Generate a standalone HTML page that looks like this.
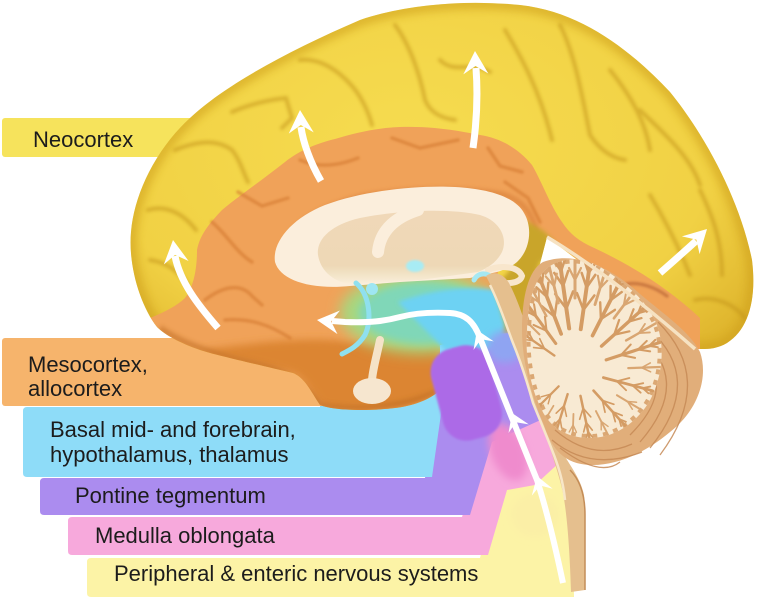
<!DOCTYPE html>
<html><head><meta charset="utf-8"><title>Brain regions</title>
<style>
html,body{margin:0;padding:0;background:#fff;width:759px;height:599px;overflow:hidden}
svg{display:block}
text{font-family:"Liberation Sans",Arial,sans-serif;font-size:22px;fill:#1c1c1c}
</style></head><body>
<svg width="759" height="599" viewBox="0 0 759 599" xmlns="http://www.w3.org/2000/svg">
<defs>
 <filter id="b1" x="-20%" y="-20%" width="140%" height="140%"><feGaussianBlur stdDeviation="1"/></filter>
 <filter id="b15" x="-20%" y="-20%" width="140%" height="140%"><feGaussianBlur stdDeviation="1.6"/></filter>
 <filter id="b2" x="-20%" y="-20%" width="140%" height="140%"><feGaussianBlur stdDeviation="2"/></filter>
 <filter id="b4" x="-30%" y="-30%" width="160%" height="160%"><feGaussianBlur stdDeviation="4"/></filter>
 <filter id="b7" x="-50%" y="-50%" width="200%" height="200%"><feGaussianBlur stdDeviation="7"/></filter>
 <clipPath id="cer"><path d="M157,327 C140,305 128,265 131,232 C134,195 155,150 190,118 C225,85 290,50 360,20 C410,3 470,0 520,5 C585,12 635,55 670,92 C705,135 740,200 752,260 C757,300 748,330 727,343 C715,350 705,349 695,349 L547,237 L522,332 L495,334 L440,345 L440,390 C430,400 412,406 395,408 C370,411 335,411 320,405 C310,390 305,378 293,373 C260,365 215,355 200,350 C180,343 165,335 157,327 Z"/></clipPath>
 <clipPath id="arb"><path d="M545,270 C560,256 585,256 605,270 C625,283 647,300 657,325 C667,352 660,388 645,408 C630,428 610,438 590,438 C565,438 548,426 540,406 C530,386 525,356 527,330 C528,304 533,283 545,270 Z"/></clipPath>
 <radialGradient id="yg" cx="0.45" cy="0.35" r="0.7">
  <stop offset="0" stop-color="#f6dc50"/><stop offset="0.7" stop-color="#f1d144"/><stop offset="1" stop-color="#ddb22b"/>
 </radialGradient>
 <linearGradient id="tanIn" x1="0" y1="0" x2="0" y2="1">
  <stop offset="0" stop-color="#f0d8b8"/><stop offset="0.75" stop-color="#eed8b6"/><stop offset="1" stop-color="#e6dcb0" stop-opacity="0"/>
 </linearGradient>
 <g id="fs" fill="none" stroke="#d49c64" stroke-linecap="round">
  <path d="M0,-115 L0,-42" stroke-width="4"/>
  <path d="M0,-62 L-9,-78 M0,-62 L9,-78 M0,-85 L-7,-99 M0,-85 L7,-99 M0,-100 L-5,-110 M0,-100 L5,-110" stroke-width="2.6"/>
 </g>
 <g id="fs2" fill="none" stroke="#d9a672" stroke-linecap="round">
  <path d="M0,-115 L0,-72" stroke-width="3"/>
  <path d="M0,-90 L-6,-102 M0,-90 L6,-102" stroke-width="2.2"/>
 </g>
 <polygon id="ah" points="0,0 12.5,23 0,15 -12.5,23" fill="#fff"/>
 <polygon id="ch" points="0,0 11,17 0,10 -11,17" fill="#fff"/>
</defs>

<!-- label bands (bottom to top) -->
<path d="M91,558 L480,558 L500,480 L540,440 L562,465 L572,490 L574,597 L91,597 Q87,597 87,593 L87,562 Q87,558 91,558 Z" fill="#fcf3a6"/>
<path d="M72,517 L462,517 L485,440 L545,410 L560,462 L535,485 L507,490 L488,555 L72,555 Q68,555 68,551 L68,521 Q68,517 72,517 Z" fill="#f7a9dc"/>
<path d="M44,478 L425,478 L437,400 L450,340 L510,325 L540,400 L545,418 L492,442 L470,515 L44,515 Q40,515 40,511 L40,482 Q40,478 44,478 Z" fill="#ab8cef"/>
<path d="M27,407 L320,407 L320,360 L440,330 L500,295 L510,328 L452,348 L443,400 L432,477 L27,477 Q23,477 23,473 L23,411 Q23,407 27,407 Z" fill="#8edcf8"/>
<rect x="2" y="338" width="330" height="68" rx="3" fill="#f6b46c"/>
<rect x="2" y="118" width="215" height="39" rx="3" fill="#f6e35c"/>

<!-- soft transitions in the stem -->
<ellipse cx="535" cy="515" rx="24" ry="22" fill="#fbefa6" filter="url(#b4)"/>
<ellipse cx="508" cy="452" rx="17" ry="30" transform="rotate(-22 508 452)" fill="#ef8bcd" filter="url(#b4)"/>

<!-- cerebrum -->
<path d="M157,327 C140,305 128,265 131,232 C134,195 155,150 190,118 C225,85 290,50 360,20 C410,3 470,0 520,5 C585,12 635,55 670,92 C705,135 740,200 752,260 C757,300 748,330 727,343 C715,350 705,349 695,349 L547,237 L522,332 L495,334 L440,345 L440,390 C430,400 412,406 395,408 C370,411 335,411 320,405 C310,390 305,378 293,373 C260,365 215,355 200,350 C180,343 165,335 157,327 Z" fill="url(#yg)"/>
<g clip-path="url(#cer)">
 <path d="M157,327 C140,305 128,265 131,232 C134,195 155,150 190,118 C225,85 290,50 360,20 C410,3 470,0 520,5 C585,12 635,55 670,92 C705,135 740,200 752,260 C757,300 748,330 727,343 C715,350 705,349 695,349" fill="none" stroke="#cfa01f" stroke-width="14" opacity="0.55" filter="url(#b4)"/>
 <g fill="none" stroke="#c4951c" stroke-width="4" stroke-linecap="round" opacity="0.55" filter="url(#b15)">
  <path d="M175,150 C195,142 215,138 232,150 C240,160 243,172 248,182"/>
  <path d="M148,210 C165,205 182,212 196,230"/>
  <path d="M232,112 C250,104 268,100 286,98 L292,118 L282,128"/>
  <path d="M300,60 C320,58 338,70 352,86 C360,95 368,110 372,125"/>
  <path d="M395,25 C410,45 420,75 425,100 C430,112 440,118 455,120"/>
  <path d="M505,30 C520,55 540,90 552,140"/>
  <path d="M560,25 C575,55 582,95 590,135 C600,150 612,158 625,160"/>
  <path d="M610,70 C630,95 645,120 650,150"/>
  <path d="M640,110 C660,130 690,155 700,185"/>
  <path d="M650,195 C665,220 678,245 690,275"/>
  <path d="M700,190 C712,215 722,240 722,275"/>
  <path d="M695,300 C715,295 735,305 745,318"/>
  <path d="M440,60 C455,75 470,60 490,72"/>
  <path d="M150,260 C165,262 178,270 188,285"/>
 </g>
 <!-- orange band + temporal -->
 <path d="M150,318 C165,312 178,305 185,298 C195,285 197,265 197,250 C200,235 208,225 222,210 C240,195 265,178 285,162 C300,150 318,143 335,139 C355,133 375,128 400,127 C430,126 455,130 480,135 C500,138 518,148 532,165 C542,182 550,205 562,222 C570,234 578,240 590,246 C625,262 665,285 700,318 L700,350 L547,237 L520,250 L500,265 L490,300 L440,345 L440,390 C430,400 412,406 395,408 C370,411 335,411 320,405 C310,390 305,378 293,373 C260,365 215,355 200,350 C180,343 165,335 157,327 Z" fill="#f0a259"/>
 <path d="M200,350 C240,345 290,338 330,340 C370,343 410,350 440,345 L440,390 C430,400 412,406 395,408 C370,411 335,411 320,405 C310,390 305,378 293,373 C260,365 215,355 200,350 Z" fill="#dc8530" filter="url(#b4)"/>
 <path d="M160,328 C180,343 215,355 260,365 C293,373 305,385 320,405 C360,412 410,406 440,390" fill="none" stroke="#b8661c" stroke-width="6" opacity="0.5" filter="url(#b2)"/>
 <g fill="none" stroke="#d47a30" stroke-width="3.5" stroke-linecap="round" opacity="0.6" filter="url(#b1)">
  <path d="M212,222 C228,236 236,252 252,262"/>
  <path d="M205,300 C222,287 240,282 252,296 L262,305"/>
  <path d="M238,192 L262,206 L288,198"/>
  <path d="M392,138 L420,148 L458,140"/>
  <path d="M488,148 L500,166 L522,172"/>
  <path d="M505,182 L528,198 L540,222"/>
  <path d="M300,160 C318,168 338,166 358,158"/>
  <path d="M225,320 C250,318 270,325 290,338"/>
  <path d="M627,284 C640,282 655,287 667,296" stroke="#a8522a" opacity="0.8"/>
 </g>
 <path d="M283,252 C288,226 318,208 360,197 C400,189 460,187 500,194 C522,199 534,214 536,234" fill="none" stroke="#d8803a" stroke-width="5" opacity="0.7" filter="url(#b2)"/>
 <!-- olive region behind splenium -->
 <path d="M522,218 L545,232 L562,250 L540,262 L528,300 L522,336 L495,336 L492,290 L510,270 L520,250 Z" fill="#c9a52b" filter="url(#b2)"/>
 <!-- diencephalon green/blue -->
 <ellipse cx="420" cy="313" rx="80" ry="40" fill="#a6d880" filter="url(#b7)"/>
 <ellipse cx="425" cy="313" rx="66" ry="31" fill="#80d7b8" filter="url(#b4)"/>
</g>
<path d="M398,302 C430,290 470,285 495,290 L505,325 L500,348 L445,350 C428,332 410,315 398,302 Z" fill="#6dd2f3" filter="url(#b2)"/>
<ellipse cx="505" cy="347" rx="18" ry="16" fill="#8fa4f2" filter="url(#b4)"/>

<!-- pons -->
<rect x="-30" y="-46" width="60" height="94" rx="24" transform="translate(466,392) rotate(-15)" fill="#ac6be7" filter="url(#b1)"/>

<!-- corpus callosum & thalamus -->
<path d="M275,262 C272,242 292,218 325,205 C365,190 420,185 455,187 C490,189 515,197 524,213 C533,228 530,250 517,262 C510,268 503,270 497,272 L470,278 L400,282 L350,286 C310,290 280,280 275,262 Z" fill="#fbeedc"/>
<path d="M318,255 C316,240 330,225 360,218 C400,210 450,208 480,215 C500,221 508,238 502,252 C497,262 488,268 478,272 L420,280 L350,284 C330,281 320,268 318,255 Z" fill="url(#tanIn)"/>
<path d="M378,252 C380,232 393,218 418,210" fill="none" stroke="#fbeedc" stroke-width="12" stroke-linecap="round"/>
<path d="M488,270 C500,265 518,266 522,276 C520,284 506,284 497,282" fill="none" stroke="#f8e6cc" stroke-width="6" stroke-linecap="round"/>
<ellipse cx="415" cy="266" rx="9" ry="6" fill="#a8ecf4" filter="url(#b1)"/>
<ellipse cx="372" cy="289" rx="6" ry="6" fill="#9ee6f2"/>
<path d="M474,280 C478,272 489,272 492,279" fill="none" stroke="#a5e8f2" stroke-width="5" stroke-linecap="round"/>
<path d="M356,283 C370,295 372,320 365,335 C358,346 350,350 342,354" fill="none" stroke="#8fe0ef" stroke-width="5" stroke-linecap="round"/>
<!-- pituitary -->
<path d="M380,340 C377,355 373,368 372,380" fill="none" stroke="#f5e3c8" stroke-width="8" stroke-linecap="round"/>
<ellipse cx="372" cy="391" rx="19" ry="13" fill="#f6e6cf"/>

<!-- brainstem posterior tan strip -->
<path d="M486,276 C494,270 505,274 510,285 C520,305 528,330 535,360 C542,390 548,420 557,442 C565,460 580,475 584,495 C586,515 585,550 585,590 L571,592 C570,560 568,520 563,493 C560,478 555,465 547,437 C540,415 536,405 533,403 C528,385 520,360 513,343 C506,325 500,305 494,292 Z" fill="#e5bf8e"/>
<path d="M490,285 C500,305 506,325 513,343 C520,360 528,385 533,403 C540,420 547,437 552,450 C558,465 563,480 565,500" fill="none" stroke="#f7e6c8" stroke-width="2.5"/>
<path d="M570,470 C580,480 585,495 585,515 L585,590" fill="none" stroke="#c48d58" stroke-width="1.5"/>

<!-- cerebellum -->
<path d="M543,262 C575,250 612,268 640,294 C665,315 690,332 700,352 C708,375 700,405 676,427 C650,450 620,466 590,465 C565,464 552,450 544,425 C532,398 522,362 522,330 C522,298 528,270 543,262 Z" fill="#e1ae7a"/>
<g fill="none" stroke="#c68a56" stroke-width="1.3" opacity="0.85">
 <path d="M658,322 Q716,380 660,455"/>
 <path d="M650,330 Q705,380 650,448"/>
 <path d="M642,338 Q692,382 640,442"/>
 <path d="M635,348 Q680,385 630,435"/>
 <path d="M552,440 Q590,472 642,452"/>
 <path d="M555,430 Q592,462 632,444"/>
 <path d="M560,448 Q600,478 620,462"/>
</g>
<!-- arbor vitae -->
<path d="M545,270 C560,256 585,256 605,270 C625,283 647,300 657,325 C667,352 660,388 645,408 C630,428 610,438 590,438 C565,438 548,426 540,406 C530,386 525,356 527,330 C528,304 533,283 545,270 Z" fill="#f8ead3"/>
<g clip-path="url(#arb)">
 <path d="M545,270 C560,256 585,256 605,270 C625,283 647,300 657,325 C667,352 660,388 645,408 C630,428 610,438 590,438 C565,438 548,426 540,406 C530,386 525,356 527,330 C528,304 533,283 545,270 Z" fill="none" stroke="#dba874" stroke-width="8" stroke-dasharray="5 6"/>
 <use href="#fs" transform="translate(575,370) rotate(-8) scale(1.0)"/>
 <use href="#fs" transform="translate(575,370) rotate(8) scale(0.98)"/>
 <use href="#fs" transform="translate(575,370) rotate(27) scale(0.92)"/>
 <use href="#fs" transform="translate(575,370) rotate(48) scale(0.85)"/>
 <use href="#fs" transform="translate(575,370) rotate(72) scale(0.78)"/>
 <use href="#fs" transform="translate(575,370) rotate(105) scale(0.7)"/>
 <use href="#fs" transform="translate(575,370) rotate(138) scale(0.66)"/>
 <use href="#fs" transform="translate(575,370) rotate(168) scale(0.63)"/>
 <use href="#fs" transform="translate(575,370) rotate(197) scale(0.6)"/>
 <use href="#fs" transform="translate(575,370) rotate(225) scale(0.55)"/>
 <use href="#fs" transform="translate(575,370) rotate(-55) scale(0.6)"/>
 <use href="#fs" transform="translate(575,370) rotate(-36) scale(0.78)"/>
 <use href="#fs" transform="translate(575,370) rotate(-21) scale(0.92)"/>
 <use href="#fs2" transform="translate(575,370) rotate(0) scale(1.0)"/>
 <use href="#fs2" transform="translate(575,370) rotate(17) scale(0.95)"/>
 <use href="#fs2" transform="translate(575,370) rotate(37) scale(0.9)"/>
 <use href="#fs2" transform="translate(575,370) rotate(60) scale(0.82)"/>
 <use href="#fs2" transform="translate(575,370) rotate(88) scale(0.74)"/>
 <use href="#fs2" transform="translate(575,370) rotate(121) scale(0.68)"/>
 <use href="#fs2" transform="translate(575,370) rotate(153) scale(0.64)"/>
 <use href="#fs2" transform="translate(575,370) rotate(182) scale(0.61)"/>
 <use href="#fs2" transform="translate(575,370) rotate(211) scale(0.58)"/>
 <use href="#fs2" transform="translate(575,370) rotate(-45) scale(0.7)"/>
 <use href="#fs2" transform="translate(575,370) rotate(-28) scale(0.85)"/>
 <use href="#fs2" transform="translate(575,370) rotate(-14) scale(0.96)"/>
</g>
<path d="M547,237 Q612,276 695,349" fill="none" stroke="#f6e2c2" stroke-width="3.5"/>

<!-- arrows -->
<g fill="none" stroke="#fff" stroke-width="7">
 <path d="M218,328 C198,305 180,282 175,256"/>
 <path d="M321,181 C310,162 303,142 301,127"/>
 <path d="M473,148 C477,120 478,95 476,68"/>
 <path d="M660,273 C675,260 686,250 696,241"/>
</g>
<use href="#ah" transform="translate(173,240) rotate(-8)"/>
<use href="#ah" transform="translate(300,110) rotate(-3)"/>
<use href="#ah" transform="translate(475,51) rotate(-2)"/>
<use href="#ah" transform="translate(707,229) rotate(45)"/>

<path d="M563,583 C555,545 545,505 537,480 L512,418 L480,338 C474,322 466,314 450,313 C430,312 415,313 400,317 C385,321 370,323 345,322 L332,321" fill="none" stroke="#fff" stroke-width="6"/>
<use href="#ah" transform="translate(317,320) rotate(-84) scale(0.95)"/>
<use href="#ch" transform="translate(477,330) rotate(-23)"/>
<use href="#ch" transform="translate(512,413) rotate(-23)"/>
<use href="#ch" transform="translate(537,476) rotate(-18)"/>

<!-- labels -->
<text x="33" y="147">Neocortex</text>
<text x="28" y="372">Mesocortex,</text>
<text x="28" y="396">allocortex</text>
<text x="50" y="437">Basal mid- and forebrain,</text>
<text x="50" y="462">hypothalamus, thalamus</text>
<text x="75" y="503">Pontine tegmentum</text>
<text x="95" y="543">Medulla oblongata</text>
<text x="114" y="581">Peripheral &amp; enteric nervous systems</text>
</svg>
</body></html>
